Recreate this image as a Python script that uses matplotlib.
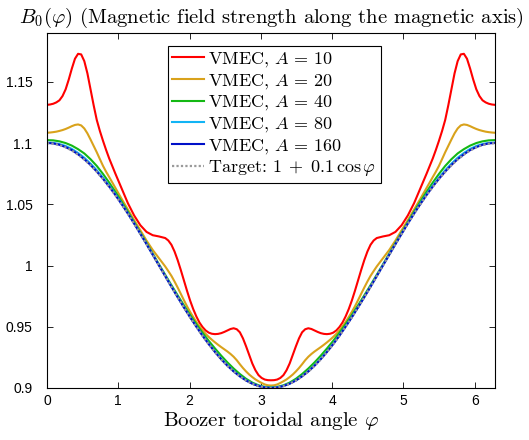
import matplotlib
matplotlib.use('Agg')
import matplotlib.pyplot as plt
import numpy as np

# toroidal angle grids in degrees (fine grid where the A=10 / A=20 curves have bumps)
phi_deg = list(range(0, 365, 5))
fine_deg = ([i * 2.5 for i in range(0, 21)] + list(range(55, 95, 5)) +
            [95 + i * 2.5 for i in range(0, 69)] + list(range(270, 310, 5)) +
            [310 + i * 2.5 for i in range(0, 21)])

red = [1.1313, 1.1316, 1.1322, 1.1333, 1.1350, 1.1385, 1.1440, 1.1520, 1.1610, 1.1690,
       1.1730, 1.1725, 1.1670, 1.1570, 1.1440, 1.1310, 1.1190, 1.1100, 1.1020, 1.0945,
       1.0875,
       1.0750, 1.0630, 1.0510, 1.0410, 1.0330, 1.0275, 1.0248, 1.0238,
       1.0225, 1.0205, 1.0170, 1.0115, 1.0045, 0.9965, 0.9880, 0.9795, 0.9715, 0.9645,
       0.9585, 0.9535, 0.9498, 0.9470, 0.9452, 0.9443, 0.9440, 0.9442, 0.9448, 0.9458,
       0.9470, 0.9482, 0.9488, 0.9480, 0.9455, 0.9405, 0.9340, 0.9270, 0.9200, 0.9145,
       0.9105, 0.9082, 0.9069, 0.9064, 0.9063,
       0.9064, 0.9069, 0.9082, 0.9105, 0.9145, 0.9200, 0.9270, 0.9340, 0.9405, 0.9455,
       0.9480, 0.9488, 0.9482, 0.9470, 0.9458, 0.9448, 0.9442, 0.9440, 0.9443, 0.9452,
       0.9470, 0.9498, 0.9535, 0.9585, 0.9645, 0.9715, 0.9795, 0.9880, 0.9965, 1.0045,
       1.0115, 1.0170, 1.0205, 1.0225,
       1.0238, 1.0248, 1.0275, 1.0330, 1.0410, 1.0510, 1.0630, 1.0750,
       1.0875, 1.0945, 1.1020, 1.1100, 1.1190, 1.1310, 1.1440, 1.1570, 1.1670, 1.1725,
       1.1730, 1.1690, 1.1610, 1.1520, 1.1440, 1.1385, 1.1350, 1.1333, 1.1322, 1.1316,
       1.1313]

gold = [1.1085, 1.1087, 1.1090, 1.1094, 1.1100, 1.1107, 1.1116, 1.1127, 1.1139, 1.1149,
        1.1153, 1.1145, 1.1120, 1.1080, 1.1030, 1.0978, 1.0926, 1.0870, 1.0815, 1.0767,
        1.0723,
        1.0634, 1.0545, 1.0458, 1.0372, 1.0289, 1.0204, 1.0127, 1.0060,
        0.9993, 0.9955, 0.9916, 0.9870, 0.9821, 0.9770, 0.9718, 0.9668, 0.9622, 0.9580,
        0.9540, 0.9504, 0.9471, 0.9442, 0.9417, 0.9394, 0.9373, 0.9353, 0.9334, 0.9316,
        0.9298, 0.9278, 0.9255, 0.9227, 0.9194, 0.9163, 0.9135, 0.9110, 0.9089, 0.9070,
        0.9055, 0.9041, 0.9029, 0.9022, 0.9020,
        0.9022, 0.9029, 0.9041, 0.9055, 0.9070, 0.9089, 0.9110, 0.9135, 0.9163, 0.9194,
        0.9227, 0.9255, 0.9278, 0.9298, 0.9316, 0.9334, 0.9353, 0.9373, 0.9394, 0.9417,
        0.9442, 0.9471, 0.9504, 0.9540, 0.9580, 0.9622, 0.9668, 0.9718, 0.9770, 0.9821,
        0.9870, 0.9916, 0.9955, 0.9993,
        1.0060, 1.0127, 1.0204, 1.0289, 1.0372, 1.0458, 1.0545, 1.0634,
        1.0723, 1.0767, 1.0815, 1.0870, 1.0926, 1.0978, 1.1030, 1.1080, 1.1120, 1.1145,
        1.1153, 1.1149, 1.1139, 1.1127, 1.1116, 1.1107, 1.1100, 1.1094, 1.1090, 1.1087,
        1.1085]

green = [1.1025, 1.1023, 1.1015, 1.1001, 1.0980, 1.0951, 1.0916, 1.0869, 1.0814, 1.0749,
         1.0678, 1.0602, 1.0522, 1.0440, 1.0355, 1.0269, 1.0184, 1.0097, 1.0010, 0.9925,
         0.9840, 0.9757, 0.9676, 0.9597, 0.9522, 0.9451, 0.9385, 0.9323, 0.9264, 0.9209,
         0.9159, 0.9114, 0.9075, 0.9044, 0.9022, 0.9009, 0.9005,
         0.9009, 0.9022, 0.9044, 0.9075, 0.9114, 0.9159, 0.9209, 0.9264, 0.9323, 0.9385,
         0.9451, 0.9522, 0.9597, 0.9676, 0.9757, 0.9840, 0.9925, 1.0010, 1.0097, 1.0184,
         1.0269, 1.0355, 1.0440, 1.0522, 1.0602, 1.0678, 1.0749, 1.0814, 1.0869, 1.0916,
         1.0951, 1.0980, 1.1001, 1.1015, 1.1023, 1.1025]

cyan = [1.1005, 1.1002, 1.0993, 1.0977, 1.0953, 1.0920, 1.0881, 1.0833, 1.0779, 1.0719,
        1.0653, 1.0582, 1.0507, 1.0428, 1.0346, 1.0262, 1.0177, 1.0090, 1.0003, 0.9916,
        0.9829, 0.9744, 0.9661, 0.9581, 0.9504, 0.9431, 0.9362, 0.9298, 0.9239, 0.9185,
        0.9138, 0.9097, 0.9063, 0.9036, 0.9017, 0.9005, 0.9001,
        0.9005, 0.9017, 0.9036, 0.9063, 0.9097, 0.9138, 0.9185, 0.9239, 0.9298, 0.9362,
        0.9431, 0.9504, 0.9581, 0.9661, 0.9744, 0.9829, 0.9916, 1.0003, 1.0090, 1.0177,
        1.0262, 1.0346, 1.0428, 1.0507, 1.0582, 1.0653, 1.0719, 1.0779, 1.0833, 1.0881,
        1.0920, 1.0953, 1.0977, 1.0993, 1.1002, 1.1005]

blue = [1.1002, 1.0998, 1.0987, 1.0968, 1.0943, 1.0909, 1.0869, 1.0822, 1.0768, 1.0709,
        1.0645, 1.0576, 1.0502, 1.0425, 1.0344, 1.0260, 1.0175, 1.0088, 1.0001, 0.9914,
        0.9827, 0.9742, 0.9659, 0.9578, 0.9501, 0.9427, 0.9358, 0.9294, 0.9235, 0.9182,
        0.9135, 0.9095, 0.9061, 0.9035, 0.9016, 0.9004, 0.9000,
        0.9004, 0.9016, 0.9035, 0.9061, 0.9095, 0.9135, 0.9182, 0.9235, 0.9294, 0.9358,
        0.9427, 0.9501, 0.9578, 0.9659, 0.9742, 0.9827, 0.9914, 1.0001, 1.0088, 1.0175,
        1.0260, 1.0344, 1.0425, 1.0502, 1.0576, 1.0645, 1.0709, 1.0768, 1.0822, 1.0869,
        1.0909, 1.0943, 1.0968, 1.0987, 1.0998, 1.1002]

target = [1.1000, 1.0996, 1.0985, 1.0966, 1.0940, 1.0906, 1.0866, 1.0819, 1.0766, 1.0707,
          1.0643, 1.0574, 1.0500, 1.0423, 1.0342, 1.0259, 1.0174, 1.0087, 1.0000, 0.9913,
          0.9826, 0.9741, 0.9658, 0.9577, 0.9500, 0.9426, 0.9357, 0.9293, 0.9234, 0.9181,
          0.9134, 0.9094, 0.9060, 0.9034, 0.9015, 0.9004, 0.9000,
          0.9004, 0.9015, 0.9034, 0.9060, 0.9094, 0.9134, 0.9181, 0.9234, 0.9293, 0.9357,
          0.9426, 0.9500, 0.9577, 0.9658, 0.9741, 0.9826, 0.9913, 1.0000, 1.0087, 1.0174,
          1.0259, 1.0342, 1.0423, 1.0500, 1.0574, 1.0643, 1.0707, 1.0766, 1.0819, 1.0866,
          1.0906, 1.0940, 1.0966, 1.0985, 1.0996, 1.1000]

series = [(fine_deg, red, '#FF0000', r'VMEC, $A\,=\,10$'),
          (fine_deg, gold, '#D9A21B', r'VMEC, $A\,=\,20$'),
          (phi_deg, green, '#14B814', r'VMEC, $A\,=\,40$'),
          (phi_deg, cyan, '#12B4F5', r'VMEC, $A\,=\,80$'),
          (phi_deg, blue, '#0010C8', r'VMEC, $A\,=\,160$')]

xticks = [0, 1, 2, 3, 4, 5, 6]
yticks = [0.9, 0.95, 1.0, 1.05, 1.1, 1.15]
ytick_labels = ['0.9', '0.95', '1', '1.05', '1.1', '1.15']

plt.rcParams['mathtext.fontset'] = 'cm'
plt.rcParams['axes.formatter.use_mathtext'] = True

fig = plt.figure(figsize=(5.29, 4.40), dpi=100)
ax = fig.add_axes([0.0888, 0.1182, 0.8469, 0.8068])

for deg, vals, col, lab in series:
    ax.plot(np.deg2rad(deg), vals, color=col, lw=1.5, label=lab)
ax.plot(np.deg2rad(phi_deg), target, color='#9a9a9a', lw=1.6, ls=(0, (1, 1)),
        label=r'Target: $1\;+\;0.1\,\cos\varphi$')

ax.set_xlim(0, 2 * np.pi)
ax.set_ylim(0.9, 1.19)
ax.set_xticks(xticks)
ax.set_xticklabels([str(t) for t in xticks])
ax.set_yticks(yticks)
ax.set_yticklabels(ytick_labels)
ax.tick_params(direction='in', top=True, right=True, length=4, width=0.6,
               labelsize=10)
ax.tick_params(axis='x', pad=4)
ax.tick_params(axis='y', pad=10.5)
for lbl in ax.get_xticklabels() + ax.get_yticklabels():
    lbl.set_fontfamily('Liberation Sans')
for sp in ax.spines.values():
    sp.set_linewidth(0.8)

ax.set_title(r'$B_0(\varphi)$ (Magnetic field strength along the magnetic axis)',
             fontfamily='cmr10', fontsize=14.8, pad=7)
ax.set_xlabel(r'Boozer toroidal angle $\varphi$', fontfamily='cmr10', fontsize=15,
              labelpad=2)

leg = ax.legend(loc='upper center', bbox_to_anchor=(0.507, 1.0),
                prop={'family': 'cmr10', 'size': 13},
                fancybox=False, framealpha=1, edgecolor='black', handlelength=1.75,
                handletextpad=0.25, labelspacing=0.15, borderpad=0.25, borderaxespad=0.7)
leg.get_frame().set_linewidth(0.8)

fig.savefig('out.png', dpi=100)
